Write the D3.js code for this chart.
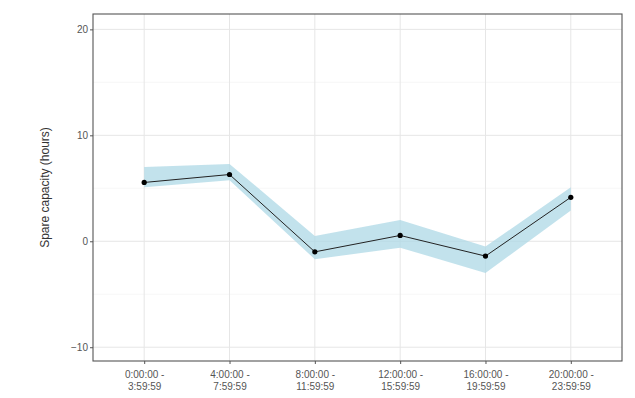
<!DOCTYPE html>
<html>
<head>
<meta charset="utf-8">
<script src="https://cdn.jsdelivr.net/npm/d3@7"></script>
<style>
  html, body { margin: 0; padding: 0; background: #fff; }
  svg { display: block; font-family: "Liberation Sans", Arial, sans-serif; }
</style>
</head>
<body>
<svg id="chart" width="635" height="398"></svg>
<script>
// Time-of-day bins (four-hour windows)
const periods = [
  ["0:00:00 -", "3:59:59"],
  ["4:00:00 -", "7:59:59"],
  ["8:00:00 -", "11:59:59"],
  ["12:00:00 -", "15:59:59"],
  ["16:00:00 -", "19:59:59"],
  ["20:00:00 -", "23:59:59"]
];
// Estimated spare capacity and its uncertainty band (hours)
const spare = [5.55, 6.3, -1.0, 0.55, -1.4, 4.15];
const upper = [7.0, 7.3, 0.5, 2.0, -0.5, 5.1];
const lower = [5.1, 5.75, -1.7, -0.6, -3.0, 2.9];
const yTicks = [-10, 0, 10, 20];
const yGrid = [-10, -5, 0, 5, 10, 15, 20];

const svg = d3.select("#chart");
const m = { left: 93, right: 13, top: 14, bottom: 37 };
const W = 635, H = 398;
const pw = W - m.left - m.right, ph = H - m.top - m.bottom;

const keys = periods.map((d, i) => i);
const x = d3.scalePoint().domain(keys).range([0, pw]).padding(0.6);
const y = d3.scaleLinear().domain([-11.3, 21.45]).range([ph, 0]);

const g = svg.append("g").attr("transform", `translate(${m.left},${m.top})`);

// grid
g.append("g").selectAll("line").data(yGrid).join("line")
  .attr("x1", 0).attr("x2", pw)
  .attr("y1", d => y(d)).attr("y2", d => y(d))
  .attr("stroke", d => d % 10 === 0 ? "#e6e6e6" : "#f2f2f2")
  .attr("stroke-width", d => d % 10 === 0 ? 1 : 0.6);
g.append("g").selectAll("line").data(keys).join("line")
  .attr("x1", d => x(d)).attr("x2", d => x(d))
  .attr("y1", 0).attr("y2", ph)
  .attr("stroke", "#e6e6e6").attr("stroke-width", 1);

// uncertainty ribbon
const rows = keys.map(i => ({ i, v: spare[i], lo: lower[i], hi: upper[i] }));
g.append("path").datum(rows)
  .attr("d", d3.area().x(d => x(d.i)).y0(d => y(d.lo)).y1(d => y(d.hi)))
  .attr("fill", "#add8e6").attr("fill-opacity", 0.75);

// line and points
g.append("path").datum(rows)
  .attr("d", d3.line().x(d => x(d.i)).y(d => y(d.v)))
  .attr("fill", "none").attr("stroke", "#222").attr("stroke-width", 1);
g.append("g").selectAll("circle").data(rows).join("circle")
  .attr("cx", d => x(d.i)).attr("cy", d => y(d.v)).attr("r", 2.6)
  .attr("fill", "#000");

// panel border
g.append("rect").attr("width", pw).attr("height", ph)
  .attr("fill", "none").attr("stroke", "#555").attr("stroke-width", 1.1);

// axes
const yAxis = g.append("g").call(d3.axisLeft(y).tickValues(yTicks).tickSize(3).tickPadding(2));
yAxis.select(".domain").remove();
yAxis.selectAll("line").attr("stroke", "#555");
yAxis.selectAll("text").attr("fill", "#555").style("font-size", "10px");

const xAxis = g.append("g").attr("transform", `translate(0,${ph})`)
  .call(d3.axisBottom(x).tickSize(3).tickFormat(() => ""));
xAxis.select(".domain").remove();
xAxis.selectAll("line").attr("stroke", "#555");
xAxis.selectAll(".tick").each(function (d) {
  const t = d3.select(this).append("text")
    .attr("fill", "#555").attr("text-anchor", "middle")
    .style("font-size", "10px");
  t.append("tspan").attr("x", 0).attr("y", 17).text(periods[d][0]);
  t.append("tspan").attr("x", 0).attr("y", 29).text(periods[d][1]);
});

// y-axis title
svg.append("text")
  .attr("transform", `translate(49,${m.top + ph / 2}) rotate(-90)`)
  .attr("text-anchor", "middle").attr("fill", "#333")
  .style("font-size", "12px")
  .text("Spare capacity (hours)");
</script>
</body>
</html>
